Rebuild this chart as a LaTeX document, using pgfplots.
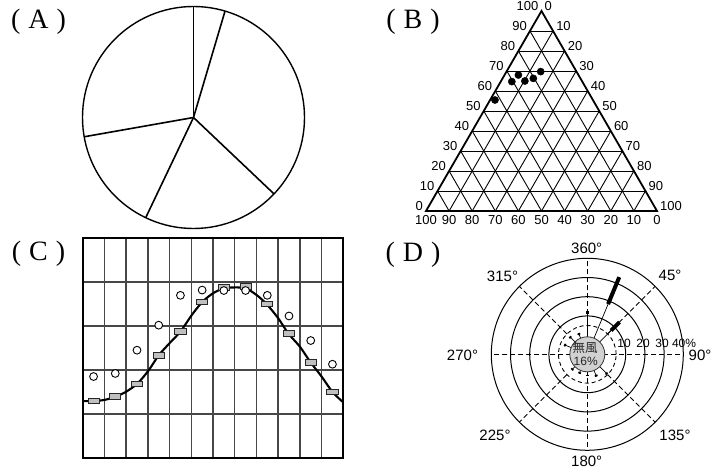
\documentclass[border=0pt]{standalone}
\usepackage{pgfplots}
\pgfplotsset{compat=1.18}
\usepgfplotslibrary{polar}
\usepackage{pgfplotstable}
\usepackage{fontspec}
\setmainfont{Liberation Sans}
\newfontfamily\cjk{Noto Sans CJK JP}
\newfontfamily\serifA{Liberation Serif}
\newcommand{\plab}[1]{{\serifA (\hspace{8pt}#1\hspace{8pt})}}

% ternary points: T = top (left-side scale), L = bottom scale, R = right-side scale (percent)
\pgfplotstableread{
T L R
68.0 26.0 6.0
64.7 30.5 4.8
65.0 24.7 10.3
66.3 20.4 13.3
69.7 15.5 14.8
55.5 42.4 2.1
}\ternpts

% panel C data
\pgfplotstableread{
x y
0.0 1.29
0.54 1.29
1.03 1.32
1.52 1.39
2.02 1.51
2.52 1.69
3.02 1.98
3.51 2.34
4.02 2.62
4.51 2.88
5.02 3.25
5.51 3.55
6.01 3.75
6.51 3.86
7.0 3.88
7.5 3.86
8.0 3.71
8.47 3.50
9.0 3.18
9.47 2.83
10.0 2.53
10.5 2.17
11.0 1.85
11.5 1.50
12.0 1.26
}\curve
\pgfplotstableread{
x y
0.5 1.29
1.5 1.39
2.5 1.68
3.5 2.33
4.5 2.88
5.5 3.55
6.5 3.88
7.5 3.90
8.5 3.50
9.5 2.83
10.5 2.17
11.5 1.50
}\rects
\pgfplotstableread{
x y
0.5 1.85
1.5 1.92
2.5 2.45
3.5 3.02
4.5 3.70
5.5 3.82
6.5 3.81
7.5 3.81
8.5 3.70
9.5 3.23
10.5 2.67
11.5 2.13
}\circs

\begin{document}
\begin{tikzpicture}
\path[use as bounding box] (0pt,0pt) rectangle (714pt,474pt);

% panel labels
\node[font=\fontsize{28}{28}\selectfont, inner sep=0pt] at (38.5pt,452pt) {\plab{A}};
\node[font=\fontsize{28}{28}\selectfont, inner sep=0pt] at (413pt,452pt) {\plab{B}};
\node[font=\fontsize{28}{28}\selectfont, inner sep=0pt] at (38.5pt,220pt) {\plab{C}};
\node[font=\fontsize{28}{28}\selectfont, inner sep=0pt] at (413pt,219pt) {\plab{D}};

% ---------- (A) pie ----------
\begin{polaraxis}[at={(193.5pt,356.5pt)}, anchor=center, width=222pt, height=222pt,
  scale only axis, xtick=\empty, ytick=\empty, ymin=0, ymax=1,
  separate axis lines, x axis line style={line width=1.4pt}, y axis line style={draw=none},
  clip=false]
\addplot[line width=1.6pt] coordinates {(90,0) (90,1)};
\addplot[line width=1.6pt] coordinates {(73.5,0) (73.5,1)};
\addplot[line width=1.6pt] coordinates {(-43.5,0) (-43.5,1)};
\addplot[line width=1.6pt] coordinates {(-115.5,0) (-115.5,1)};
\addplot[line width=1.6pt] coordinates {(190,0) (190,1)};
\end{polaraxis}

% ---------- (B) ternary ----------
\begin{axis}[at={(426pt,263pt)}, anchor=south west, width=231pt, height=200pt,
  scale only axis, xmin=0, xmax=1, ymin=0, ymax=0.8660254, hide axis, clip=false]
\pgfplotsinvokeforeach{1,...,9}{
  \draw[line width=0.9pt] (axis cs:{0.05*#1},{0.08660254*#1}) -- (axis cs:{1-0.05*#1},{0.08660254*#1});
  \draw[line width=0.9pt] (axis cs:{0.1*#1},0) -- (axis cs:{0.5+0.05*#1},{0.8660254-0.08660254*#1});
  \draw[line width=0.9pt] (axis cs:{0.1*#1},0) -- (axis cs:{0.05*#1},{0.08660254*#1});
}
\draw[line width=1.8pt, line join=miter] (axis cs:0,0) -- (axis cs:0.5,0.8660254) -- (axis cs:1,0) -- cycle;
\pgfplotsinvokeforeach{0,...,10}{
  \node[anchor=south east, inner sep=0.5pt, xshift=-2.5pt, font=\fontsize{13}{13}\selectfont]
    at (axis cs:{0.05*#1},{0.08660254*#1}) {\pgfmathtruncatemacro\v{10*#1}\v};
  \node[anchor=south west, inner sep=0.5pt, xshift=2.5pt, font=\fontsize{13}{13}\selectfont]
    at (axis cs:{1-0.05*#1},{0.08660254*#1}) {\pgfmathtruncatemacro\v{100-10*#1}\v};
  \node[anchor=north, inner sep=0.5pt, yshift=-4pt, font=\fontsize{13}{13}\selectfont]
    at (axis cs:{0.1*#1},0) {\pgfmathtruncatemacro\v{100-10*#1}\v};
}
\addplot[only marks, mark=*, mark size=3.6pt, black]
  table[x expr={(\thisrow{R}+0.5*\thisrow{T})/100}, y expr={0.8660254*\thisrow{T}/100}] {\ternpts};
\end{axis}

% ---------- (C) grid chart ----------
\begin{axis}[at={(82.7pt,16.3pt)}, anchor=south west, width=260.6pt, height=219.4pt,
  scale only axis, xmin=0, xmax=12, ymin=0, ymax=5,
  xtick={0,...,12}, ytick={0,...,5}, xticklabels={}, yticklabels={}, major tick length=0pt,
  grid=major, grid style={line width=1.4pt, color=black!72},
  axis line style={line width=2pt}]
\addplot[line width=2.1pt, black, smooth, tension=0.5] table {\curve};
\addplot[only marks, mark=square*, mark size=2.8pt,
  mark options={xscale=2.0, fill=black!25, draw=black!85, line width=0.9pt}] table {\rects};
\addplot[only marks, mark=*, mark size=3.9pt,
  mark options={fill=white, draw=black, line width=0.9pt}] table {\circs};
\end{axis}

% ---------- (D) wind rose ----------
\begin{polaraxis}[at={(587.3pt,119.7pt)}, anchor=center, width=192pt, height=192pt,
  scale only axis, xtick=\empty, ytick=\empty, ymin=0, ymax=50,
  separate axis lines, x axis line style={line width=1pt}, y axis line style={draw=none},
  clip=false]
\draw[line width=1pt] (axis cs:0,0) circle[radius=38.4pt];
\draw[line width=1pt] (axis cs:0,0) circle[radius=57.6pt];
\draw[line width=1pt] (axis cs:0,0) circle[radius=76.8pt];
\draw[line width=0.9pt, dash pattern=on 4pt off 3pt] (axis cs:0,0) circle[radius=28.8pt];
\addplot[line width=0.9pt, dash pattern=on 5pt off 3pt] coordinates {(0,0) (0,50)};
\addplot[line width=0.9pt, dash pattern=on 5pt off 3pt] coordinates {(90,0) (90,50)};
\addplot[line width=0.9pt, dash pattern=on 5pt off 3pt] coordinates {(180,0) (180,50)};
\addplot[line width=0.9pt, dash pattern=on 5pt off 3pt] coordinates {(270,0) (270,50)};
\addplot[line width=0.9pt, dash pattern=on 5pt off 3pt] coordinates {(45,15) (45,50)};
\addplot[line width=0.9pt, dash pattern=on 5pt off 3pt] coordinates {(135,15) (135,50)};
\addplot[line width=0.9pt, dash pattern=on 5pt off 3pt] coordinates {(225,15) (225,50)};
\addplot[line width=0.9pt, dash pattern=on 5pt off 3pt] coordinates {(315,15) (315,50)};
% spokes (angle = 90 - bearing, radius = percent + 10)
\addplot[line width=0.7pt] coordinates {(90,9) (90,22.2)};
\addplot[line width=3.5pt] coordinates {(90,21.0) (90,22.4)};
\addplot[line width=0.7pt] coordinates {(67.5,9) (67.5,28.3)};
\addplot[line width=4pt] coordinates {(67.5,28.3) (67.5,43.5)};
\addplot[line width=0.7pt] coordinates {(45,9) (45,17.5)};
\addplot[line width=4pt] coordinates {(45,17.5) (45,23.7)};
\addplot[line width=0.7pt] coordinates {(112.5,9) (112.5,11.9)};
\addplot[line width=2.8pt] coordinates {(112.5,11.0) (112.5,11.9)};
\addplot[line width=0.7pt] coordinates {(135,9) (135,13)};
\addplot[line width=2.8pt] coordinates {(135,12.1) (135,13)};
\addplot[line width=0.7pt] coordinates {(157.5,9) (157.5,13)};
\addplot[line width=2.8pt] coordinates {(157.5,12.1) (157.5,13)};
\addplot[line width=0.7pt] coordinates {(225,9) (225,11.5)};
\addplot[line width=2.8pt] coordinates {(225,10.6) (225,11.5)};
\addplot[line width=0.7pt] coordinates {(247.5,9) (247.5,10.9)};
\addplot[line width=2.8pt] coordinates {(247.5,10.0) (247.5,10.9)};
\addplot[line width=0.7pt] coordinates {(270,9) (270,11.5)};
\addplot[line width=2.8pt] coordinates {(270,10.6) (270,11.5)};
\addplot[line width=0.7pt] coordinates {(292.5,9) (292.5,12.5)};
\addplot[line width=2.8pt] coordinates {(292.5,11.6) (292.5,12.5)};
\addplot[line width=0.7pt] coordinates {(315,9) (315,14.6)};
\addplot[line width=2.8pt] coordinates {(315,13.7) (315,14.6)};
% calm disk
\filldraw[fill=black!18, draw=black!80, line width=0.8pt] (axis cs:0,0) circle[radius=17.5pt];
\end{polaraxis}
\node[font=\fontsize{12.5}{12.5}\selectfont\cjk, inner sep=0pt, text=black!85] at (585pt,126.7pt) {無風};
\node[font=\fontsize{12}{12}\selectfont, inner sep=0pt, text=black!85] at (585.7pt,112.3pt) {16\%};
\node[font=\fontsize{12}{12}\selectfont, inner sep=0pt] at (624pt,131pt) {10};
\node[font=\fontsize{12}{12}\selectfont, inner sep=0pt] at (643pt,131pt) {20};
\node[font=\fontsize{12}{12}\selectfont, inner sep=0pt] at (662pt,131pt) {30};
\node[font=\fontsize{12}{12}\selectfont, inner sep=0pt] at (684pt,131pt) {40\%};
\node[font=\fontsize{15}{15}\selectfont, inner sep=0pt] at (586.7pt,225.5pt) {360°};
\node[font=\fontsize{15}{15}\selectfont, inner sep=0pt] at (670pt,198.5pt) {45°};
\node[font=\fontsize{15}{15}\selectfont, inner sep=0pt] at (502.5pt,198pt) {315°};
\node[font=\fontsize{15}{15}\selectfont, inner sep=0pt] at (462.5pt,119pt) {270°};
\node[font=\fontsize{15}{15}\selectfont, inner sep=0pt] at (700pt,119pt) {90°};
\node[font=\fontsize{15}{15}\selectfont, inner sep=0pt] at (495pt,39pt) {225°};
\node[font=\fontsize{15}{15}\selectfont, inner sep=0pt] at (675pt,39pt) {135°};
\node[font=\fontsize{15}{15}\selectfont, inner sep=0pt] at (586.7pt,13pt) {180°};
\end{tikzpicture}
\end{document}
